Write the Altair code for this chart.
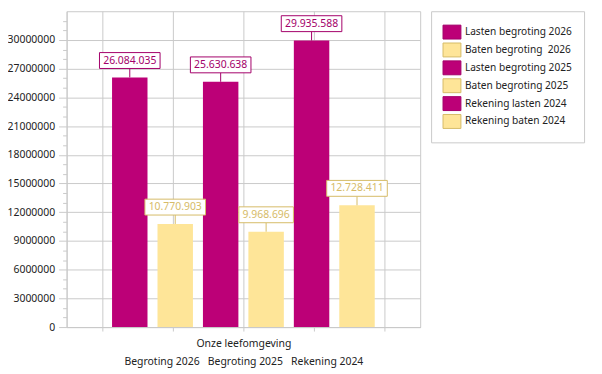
import altair as alt
import pandas as pd

series = ["Lasten begroting 2026", "Baten begroting\u00a0 2026", "Lasten begroting 2025",
          "Baten begroting 2025", "Rekening lasten 2024", "Rekening baten 2024"]
values = [26084035, 10770903, 25630638, 9968696, 29935588, 12728411]
fill_colors = ["#BC0077", "#FEE598", "#BC0077", "#FEE598", "#BC0077", "#FEE598"]
line_colors = ["#A3006A", "#D6BB68", "#A3006A", "#D6BB68", "#A3006A", "#D6BB68"]
y_ticks = list(range(0, 32_000_001, 1_000_000))
x_grid = [0.5, 1.5, 2.5, 3.5, 4.5]
category = "Onze leefomgeving"
periods = ["Begroting 2026", "Begroting 2025", "Rekening 2024"]

df = pd.DataFrame({"series": series, "value": values})

FONT = "Noto Sans"
FS = 10.5
TXT = "#222222"
GRID = "#cacaca"
MAJOR = "datum.value % 3000000 === 0"

leg = alt.Legend(
    title=None, orient="none", legendX=367, legendY=0,
    padding=12, strokeColor=GRID, fillColor="white",
    symbolType="M-1.0588,-0.8235L1.0588,-0.8235L1.0588,0.8235L-1.0588,0.8235Z", symbolSize=289,
    symbolStrokeWidth=1, rowPadding=0, labelOffset=4,
    labelFont=FONT, labelFontSize=10.2, labelColor=TXT,
)

x_band = alt.X("series:N", sort=series,
               scale=alt.Scale(type="band", domain=series, paddingInner=0.22, paddingOuter=1.0),
               axis=None)
y_enc = alt.Y(
    "value:Q",
    scale=alt.Scale(domain=[0, 33000000], nice=False),
    axis=alt.Axis(
        values=y_ticks, tickCount=40, format="d", title=None, labelOverlap=False,
        labelExpr=f"{MAJOR} ? datum.label : ''",
        tickSize={"condition": {"test": MAJOR, "value": 8}, "value": 4},
        gridOpacity={"condition": {"test": MAJOR, "value": 1}, "value": 0},
        grid=True, gridColor=GRID, tickColor=GRID, domainColor=GRID,
        labelFont=FONT, labelFontSize=FS, labelColor=TXT, labelPadding=4,
    ),
)

base = alt.Chart(df).transform_calculate(
    label="replace(format(datum.value, ','), regexp(',', 'g'), '.')"
).transform_calculate(
    boxw="length(datum.label) * 6 + 1"
)

bars = base.mark_bar().encode(
    x=x_band, y=y_enc,
    color=alt.Color("series:N", scale=alt.Scale(domain=series, range=fill_colors), legend=leg),
)

stroke_enc = alt.Stroke("series:N", scale=alt.Scale(domain=series, range=line_colors), legend=leg)

stems = base.mark_rule(strokeWidth=1, y2Offset=-9).encode(
    x=x_band, y=y_enc, y2="value:Q", stroke=stroke_enc,
)

boxes = base.mark_bar(fill="white", strokeWidth=1, yOffset=-9, y2Offset=-25).encode(
    x=x_band, y=y_enc, y2="value:Q",
    size=alt.Size("boxw:Q", scale=None),
    stroke=stroke_enc,
)

texts = base.mark_text(yOffset=-17, baseline="middle", align="center",
                       font=FONT, fontSize=FS).encode(
    x=x_band, y=y_enc, text="label:N",
    fill=alt.Fill("series:N", scale=alt.Scale(domain=series, range=line_colors), legend=None),
)

grid_layer = alt.Chart(df).mark_point(opacity=0).encode(
    x=alt.XDatum(
        0, type="quantitative",
        scale=alt.Scale(domain=[0, 5], nice=False),
        axis=alt.Axis(
            values=x_grid, orient="bottom", grid=True, labels=False,
            ticks=True, tickSize=4, tickColor=GRID, gridColor=GRID, domainColor=GRID,
            title=[category, "\u00a0\u00a0 ".join(periods)],
            titleFont=FONT, titleFontSize=FS, titleFontWeight="normal", titleColor=TXT,
            titleLineHeight=18, titlePadding=7,
        ),
    ),
)

main = alt.layer(bars, stems, boxes, texts)

chart = alt.layer(grid_layer, main).resolve_scale(
    x="independent"
).properties(
    width=356, height=318,
    autosize=alt.AutoSizeParams(type="none"),
    padding={"left": 59, "top": 2, "right": 175, "bottom": 46},
).configure_view(stroke=GRID)

chart.save("out.html", embed_options={"renderer": "svg", "actions": False})
